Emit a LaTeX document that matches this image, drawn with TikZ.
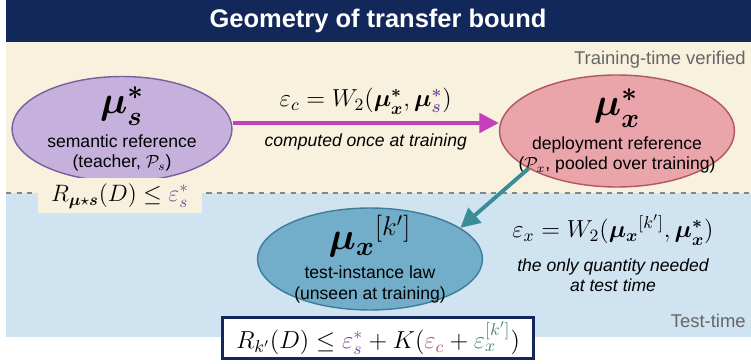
\RequirePackage{fix-cm}
\documentclass[tikz,border=0pt]{standalone}
\usepackage{amsmath}
\usepackage[no-math]{fontspec}
\setmainfont{Liberation Sans}
\usetikzlibrary{shapes.geometric, arrows.meta, positioning}
\definecolor{navy}{HTML}{13285A}
\definecolor{cream}{HTML}{F7F1DD}
\definecolor{skyband}{HTML}{CFE3F1}
\definecolor{semfill}{HTML}{C6B1DD}
\definecolor{semdraw}{HTML}{7B5E9F}
\definecolor{depfill}{HTML}{E9A5AA}
\definecolor{depdraw}{HTML}{B0575F}
\definecolor{tstfill}{HTML}{72AECA}
\definecolor{tstdraw}{HTML}{3F7C99}
\definecolor{magarrow}{HTML}{C440B8}
\definecolor{tealarrow}{HTML}{3A8C98}
\definecolor{sempurple}{HTML}{7B4A9A}
\definecolor{depred}{HTML}{B85560}
\definecolor{tstgreen}{HTML}{3E8C78}
\definecolor{zonegray}{HTML}{666666}
\tikzset{
  law node/.style={
    ellipse, line width=0.8pt, inner sep=-1cm,
    align=center, font=\fontsize{10}{11.5}\selectfont
  },
  law arrow/.style={
    -{Triangle[length=11pt, width=11pt]}, line width=2.2pt
  },
  eq label/.style={
    font=\fontsize{14}{16}\selectfont, text=black, inner sep=1pt
  },
  note label/.style={
    font=\fontsize{10}{11.5}\selectfont\itshape, text=black, inner sep=1pt, align=center
  },
  zone label/.style={
    font=\fontsize{10.5}{12}\selectfont, text=zonegray, inner sep=0pt
  },
  bound box/.style={
    font=\fontsize{14}{16}\selectfont, inner sep=2pt
  }
}
\newcommand{\biglaw}[1]{{\fontsize{22}{22}\selectfont$#1$}}

\begin{document}
\begin{tikzpicture}[x=0.02cm, y=-0.02cm, node distance=2pt]
  \useasboundingbox (0,0) rectangle (751,364);
  \fill[navy] (6,0) rectangle (751,42);
  \fill[cream] (6,42) rectangle (751,193);
  \fill[skyband] (6,193) rectangle (751,337);
  \draw[zonegray!80, dashed, line width=0.6pt] (6,193) -- (751,193);

  \node (title) at (378,21) [font=\fontsize{14.5}{16}\selectfont\bfseries, text=white] {Geometry of transfer bound};
  \node (trainzone) at (746,60) [zone label, anchor=east] {Training-time verified};
  \node (testzone) at (746,321) [zone label, anchor=east] {Test-time};

  \node (sem) at (122,129) [law node, draw=semdraw, fill=semfill, minimum width=4.4cm, minimum height=2.1cm]
    {\biglaw{\boldsymbol{\mu_s^*}}\\[4pt] semantic reference\\ (teacher, $\mathcal{P}_s$)};
  \node (dep) at (617,131) [law node, draw=depdraw, fill=depfill, minimum width=4.7cm, minimum height=2.24cm]
    {\biglaw{\boldsymbol{\mu_x^*}}\\[4pt] deployment reference\\ ($\mathcal{P}_x$, pooled over training)};
  \node (tst) at (370,259) [law node, draw=tstdraw, fill=tstfill, minimum width=4.5cm, minimum height=2.04cm]
    {\biglaw{\boldsymbol{\mu_x}^{[k']}}\\[4pt] test-instance law\\ (unseen at training)};

  \draw [law arrow, magarrow] (sem.east |- 0,123) -- node (wc) [eq label, above=3pt]
    {$\varepsilon_c = W_2(\boldsymbol{\mu_x^*}, \boldsymbol{\mu}_{\boldsymbol{s}}^{\color{sempurple}\boldsymbol{*}})$}
    node (wcnote) [note label, below=4pt] {computed once at training} (dep.west |- 0,123);
  \draw [law arrow, tealarrow] (dep.203) -- (tst.19);

  \node (wx) at (613,230) [eq label] {$\varepsilon_x = W_2(\boldsymbol{\mu_x}^{[k']}, \boldsymbol{\mu_x^*})$};
  \node (wxnote) [note label, below=5pt of wx] {the only quantity needed\\ at test time};

  \node (sembound) at (120,196) [bound box, fill=cream, minimum width=3.3cm, minimum height=0.7cm, font=\fontsize{13.5}{15}\selectfont]
    {$R_{\boldsymbol{\mu}\star\boldsymbol{s}}(D) \le {\color{sempurple}\varepsilon_s^*}$};
  \node (bound) at (378,338) [bound box, draw=navy, line width=1.5pt, fill=white, minimum width=6.22cm, minimum height=0.82cm]
    {$R_{k'}(D) \le {\color{sempurple}\varepsilon_s^*} + K({\color{depred}\varepsilon_c} + {\color{tstgreen}\varepsilon_x^{[k']}})$};
\end{tikzpicture}
\end{document}
